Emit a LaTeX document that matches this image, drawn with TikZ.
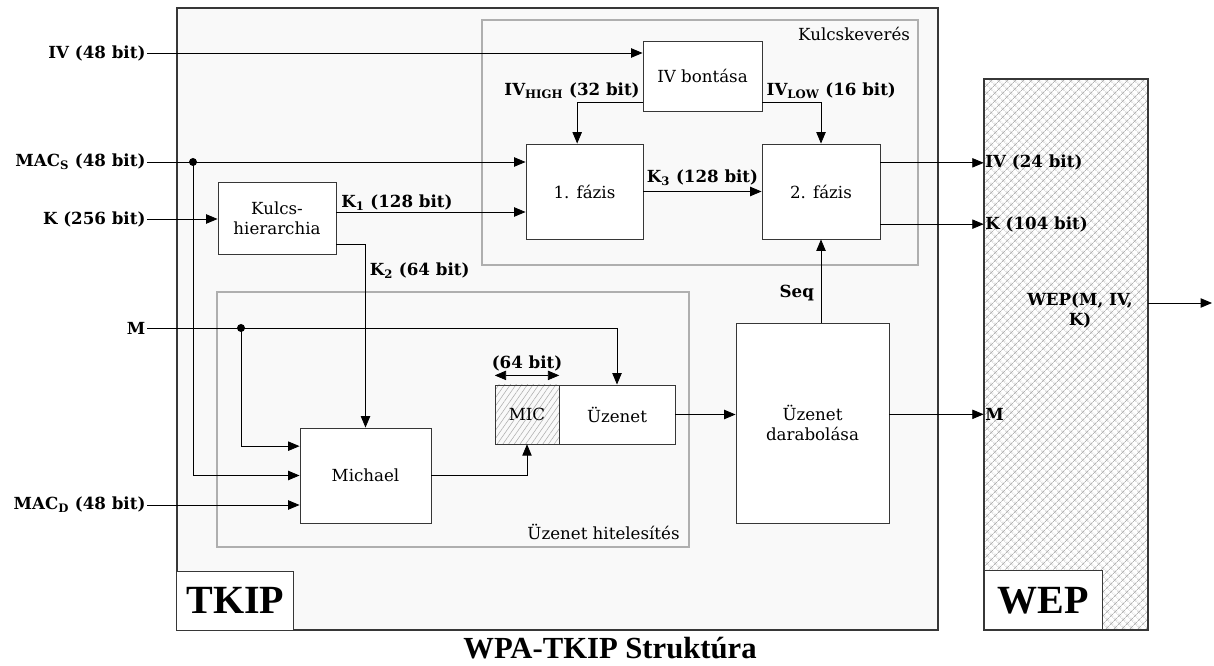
\documentclass[tikz,border=0pt]{standalone}
\usepackage{fontspec}
\setmainfont{DejaVu Serif}
\newfontfamily\titlefont{Liberation Serif}
\usetikzlibrary{arrows.meta, positioning, patterns, patterns.meta}
\definecolor{lineDark}{RGB}{55,55,55}
\definecolor{groupGray}{RGB}{175,175,175}

\tikzset{
  arr/.style={-{Triangle[length=8.5pt,width=7pt]}, line width=0.6pt},
  blockbox/.style={draw=lineDark, line width=0.7pt, fill=white, align=center,
    inner sep=0pt, font=\fontsize{12.5}{15}\selectfont},
  grpbox/.style={draw=groupGray, line width=0.9pt, inner sep=0pt},
  sig/.style={font=\bfseries\fontsize{12.5}{15}\selectfont, inner sep=1pt},
  tagbox/.style={draw=lineDark, line width=0.7pt, fill=white, anchor=south west,
    minimum height=44.25pt, font=\titlefont\bfseries\fontsize{30}{32}\selectfont},
}

\begin{document}
\begin{tikzpicture}[x=0.75pt, y=-0.75pt]
  \useasboundingbox (0,0) rectangle (1214,666);

  % outer frames
  \node[draw=lineDark, line width=0.8pt, fill=gray!5, inner sep=0pt,
    minimum width=570.75pt, minimum height=466.5pt] (tkipBox) at (557.5,319) {};
  \node[draw=lineDark, line width=0.8pt, inner sep=0pt,
    pattern={Hatch[angle=45,distance=4pt,line width=0.5pt]}, pattern color=gray!60,
    minimum width=123pt, minimum height=413.25pt] (wepBox) at (1066,354.5) {};

  % groups
  \node[grpbox, minimum width=327pt, minimum height=183.75pt] (mixGroup) at (700,142.5) {};
  \node[grpbox, minimum width=354pt, minimum height=191.25pt] (authGroup) at (453,419.5) {};
  \node[anchor=north east, font=\fontsize{12.5}{15}\selectfont] (mixLbl)
    at ([xshift=-3pt,yshift=-2pt]mixGroup.north east) {Kulcskeverés};
  \node[anchor=south east, font=\fontsize{12.5}{15}\selectfont] (authLbl)
    at ([xshift=-4pt,yshift=2pt]authGroup.south east) {Üzenet hitelesítés};

  % blocks
  \node[blockbox, minimum width=89.25pt, minimum height=52.5pt] (ivSplit) at (702.5,76) {IV bontása};
  \node[blockbox, minimum width=87.75pt, minimum height=71.25pt] (phaseOne) at (584.5,191.5) {1. fázis};
  \node[blockbox, minimum width=88.5pt, minimum height=71.25pt] (phaseTwo) at (821,191.5) {2. fázis};
  \node[blockbox, minimum width=88.5pt, minimum height=54pt] (keyHier) at (277,218) {Kulcs-\\hierarchia};
  \node[blockbox, minimum width=98.25pt, minimum height=71.25pt] (michael) at (365.5,475.5) {Michael};
  \node[blockbox, minimum width=48pt, minimum height=44.25pt,
    pattern={Lines[angle=55,distance=3.5pt,line width=0.4pt]}, pattern color=gray!65] (micBox) at (527,414.5) {MIC};
  \node[blockbox, minimum width=87pt, minimum height=44.25pt] (msgBox) at (617,414.5) {Üzenet};
  \node[blockbox, minimum width=114.75pt, minimum height=150pt] (fragBox) at (812.5,423) {Üzenet\\darabolása};

  % tags
  \node[tagbox, minimum width=87.75pt] (tkipTag) at (tkipBox.south west) {TKIP};
  \node[tagbox, minimum width=88.5pt] (wepTag) at (wepBox.south west) {WEP};

  % inputs
  \node[sig, anchor=east] (ivIn) at (147,53) {IV (48 bit)};
  \node[sig, anchor=east] (macIn) at (147,162) {MAC\textsubscript{S} (48 bit)};
  \node[sig, anchor=east] (kIn) at (147,219) {K (256 bit)};
  \node[sig, anchor=east] (mIn) at (147,328) {M};
  \node[sig, anchor=east] (macdIn) at (147,505) {MAC\textsubscript{D} (48 bit)};
  \coordinate (macDot) at (193,162);
  \coordinate (msgDot) at (241,328);
  \coordinate (wepEnd) at (1212,303);

  % key mixing
  \draw[arr] (ivIn.east) -- (ivIn.east -| ivSplit.west);
  \draw[arr] (macIn.east) -- (macIn.east -| phaseOne.west);
  \draw[arr] (kIn.east) -- (kIn.east -| keyHier.west);
  \draw[arr] ([yshift=4.5pt]keyHier.east) -- ([yshift=4.5pt]keyHier.east -| phaseOne.west)
    node[sig, pos=0.32, above] (kOneLbl) {K\textsubscript{1} (128 bit)};
  \draw[arr] ([yshift=-20pt]ivSplit.west) -| ([xshift=-5.5pt]phaseOne.north);
  \node[sig, anchor=south east] (ivHighLbl) at ([xshift=-1pt,yshift=2pt]ivSplit.west |- 0,103) {IV\textsubscript{HIGH} (32 bit)};
  \draw[arr] ([yshift=-20pt]ivSplit.east) -| (phaseTwo.north);
  \node[sig, anchor=south west] (ivLowLbl) at ([xshift=2pt,yshift=2pt]ivSplit.east |- 0,103) {IV\textsubscript{LOW} (16 bit)};
  \draw[arr] (phaseOne.east) -- (phaseTwo.west)
    node[sig, midway, above=3pt] (kThreeLbl) {K\textsubscript{3} (128 bit)};
  \draw[arr] ([yshift=21.5pt]phaseTwo.east) -- ([yshift=21.5pt]phaseTwo.east -| wepBox.west)
    node[sig, right] (ivOut) {IV (24 bit)};
  \draw[arr] ([yshift=-24.5pt]phaseTwo.east) -- ([yshift=-24.5pt]phaseTwo.east -| wepBox.west)
    node[sig, right] (kOut) {K (104 bit)};

  % message authentication
  \draw[arr] ([yshift=-20pt]keyHier.east) -| (michael.north)
    node[sig, pos=0.57, right=2pt] (kTwoLbl) {K\textsubscript{2} (64 bit)};
  \draw[arr] (macDot) |- (michael.west);
  \draw[arr] (mIn.east) -| (msgBox.north);
  \draw[arr] (msgDot) |- ([yshift=22pt]michael.west);
  \draw[arr] (macdIn.east) -- (macdIn.east -| michael.west);
  \fill (macDot) circle (3pt);
  \fill (msgDot) circle (3pt);
  \draw[arr] (michael.east) -| (micBox.south);
  \draw[{Triangle[length=8.5pt,width=7pt]}-{Triangle[length=8.5pt,width=7pt]}, line width=0.6pt]
    ([yshift=7pt]micBox.north west) -- ([yshift=7pt]micBox.north east)
    node[sig, midway, above=2pt] (micLen) {(64 bit)};
  \draw[arr] (msgBox.east) -- (msgBox.east -| fragBox.west);
  \draw[arr] (phaseTwo.south |- fragBox.north) -- (phaseTwo.south)
    node[sig, pos=0.35, left=4pt] (seqLbl) {Seq};

  % WEP
  \draw[arr] ([yshift=6.5pt]fragBox.east) -- ([yshift=6.5pt]fragBox.east -| wepBox.west)
    node[sig, right] (mOut) {M};
  \node[sig, align=center] (wepFunc) at (1080,310) {WEP(M, IV,\\K)};
  \draw[arr] (wepEnd -| wepBox.east) -- (wepEnd);

  % title
  \node[font=\titlefont\bfseries\fontsize{23}{26}\selectfont] (title) at (610,648) {WPA-TKIP Struktúra};
\end{tikzpicture}
\end{document}
